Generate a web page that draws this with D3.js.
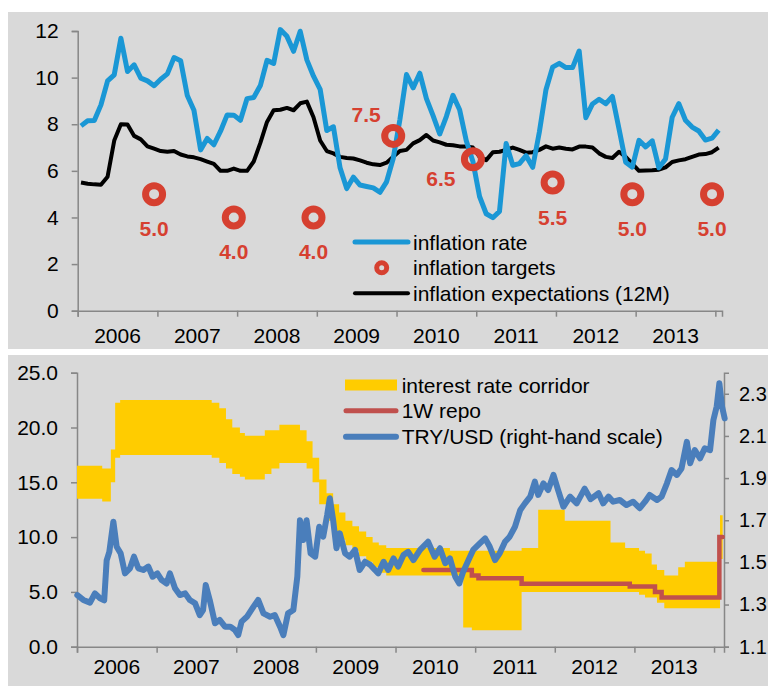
<!DOCTYPE html>
<html>
<head>
<meta charset="utf-8">
<script src="https://cdnjs.cloudflare.com/ajax/libs/d3/7.8.5/d3.min.js"></script>
<style>
body { margin: 0; background: #fff; }
svg { display: block; font-family: "Liberation Sans", Arial, sans-serif; }
</style>
</head>
<body>
<svg id="chart"></svg>
<script>
// Canvas size
const width = 768, height = 686;

// ---- data: top panel (monthly, Jan 2006 .. Jan 2014) ----
const years = ["2006", "2007", "2008", "2009", "2010", "2011", "2012", "2013"];
const inflationRate = [
    7.93, 8.15, 8.16, 8.83, 9.86, 10.12, 11.69, 10.26, 10.55, 9.98, 9.86, 9.65,
    9.93, 10.16, 10.86, 10.72, 9.23, 8.60, 6.90, 7.39, 7.12, 7.70, 8.40, 8.39,
    8.17, 9.10, 9.15, 9.66, 10.74, 10.61, 12.06, 11.77, 11.13, 11.99, 10.76, 10.06,
    9.50, 7.73, 7.89, 6.13, 5.24, 5.73, 5.39, 5.33, 5.27, 5.08, 5.53, 6.53,
    8.19, 10.13, 9.56, 10.19, 9.10, 8.37, 7.58, 8.33, 9.24, 8.62, 7.29, 6.40,
    4.90, 4.16, 3.99, 4.26, 7.17, 6.24, 6.31, 6.65, 6.15, 7.66, 9.48, 10.45,
    10.61, 10.43, 10.43, 11.14, 8.28, 8.87, 9.07, 8.88, 9.19, 7.80, 6.37, 6.16,
    7.31, 7.03, 7.29, 6.13, 6.51, 8.30, 8.88, 8.17, 7.88, 7.71, 7.32, 7.40,
    7.75
];
const inflationExpect = [
    5.50, 5.45, 5.42, 5.40, 5.75, 7.30, 8.00, 7.99, 7.50, 7.35, 7.05, 6.95,
    6.85, 6.82, 6.85, 6.70, 6.62, 6.58, 6.50, 6.40, 6.30, 6.00, 6.00, 6.10,
    6.00, 6.00, 6.40, 7.20, 8.10, 8.60, 8.62, 8.70, 8.60, 8.90, 8.97, 8.30,
    7.30, 6.85, 6.75, 6.60, 6.55, 6.53, 6.45, 6.35, 6.28, 6.25, 6.35, 6.60,
    6.85, 6.90, 7.18, 7.32, 7.54, 7.30, 7.22, 7.12, 7.10, 7.05, 7.05, 7.00,
    6.60, 6.46, 6.80, 6.82, 6.90, 7.00, 6.90, 6.78, 6.80, 6.90, 7.05, 6.95,
    7.00, 6.95, 6.92, 7.04, 7.04, 7.00, 6.75, 6.60, 6.55, 6.82, 6.60, 6.30,
    6.00, 6.02, 6.03, 6.05, 6.15, 6.38, 6.45, 6.50, 6.60, 6.70, 6.72, 6.80,
    7.00
];
// year-end inflation targets (month index of December)
const targetMonth = [11, 23, 35, 47, 59, 71, 83, 95];
const targetValue = [5.0, 4.0, 4.0, 7.5, 6.5, 5.5, 5.0, 5.0];

// ---- data: bottom panel (x in months since Jan 2006) ----
const corridorStart = [0, 3.8, 5.1, 5.75, 6.5, 20.3, 21.45, 22.45, 23.4, 24.55, 25.3, 28.3, 29.3, 30.5,
    33.6, 34.6, 35.5, 36.5, 37.6, 38.6, 39.5, 40.45, 41.5, 42.5, 43.58, 44.55, 45.48, 46.6, 56.2,
    58.2, 59.5, 67.0, 69.5, 73.5, 80.4, 82.6, 84.7, 85.6, 86.6, 87.4, 88.5, 90.6, 91.6, 96.9];
const corridorLow = [13.5, 13.25, 15.0, 17.25, 17.5, 17.25, 16.75, 16.25, 15.75, 15.5, 15.25, 15.75, 16.25, 16.75,
    16.75, 16.25, 15.0, 13.0, 11.5, 10.5, 9.75, 9.25, 8.75, 8.25, 7.75, 7.25, 6.75, 6.5, 6.5,
    1.75, 1.5, 5.0, 5.0, 5.0, 5.0, 5.0, 4.75, 4.5, 4.5, 4.0, 3.5, 3.5, 3.5, 8.0];
const corridorHigh = [16.5, 16.25, 18.0, 22.25, 22.5, 22.25, 21.75, 20.75, 20.0, 19.5, 19.25, 19.75, 19.75, 20.25,
    19.75, 18.75, 17.25, 15.25, 14.0, 13.0, 12.25, 11.5, 11.0, 10.5, 10.0, 9.5, 9.25, 9.0, 8.75,
    8.75, 8.75, 9.0, 12.5, 11.5, 9.5, 9.0, 8.75, 8.5, 7.5, 7.0, 6.5, 7.25, 7.75, 12.0];
const corridorEnd = 97.3;

const repoStart = [52.2, 59.5, 60.5, 67.0, 83.3, 87.1, 88.1, 96.8];
const repoRate = [7.0, 6.5, 6.25, 5.75, 5.5, 5.0, 4.5, 10.0];
const repoEnd = 97.3;

const fxMonth = [0.05, 0.95, 1.96, 2.7, 3.47, 4.1, 4.47, 4.87, 5.48, 5.98, 6.58, 7.23, 7.99, 8.59, 9.24,
    10.0, 10.75, 11.4, 12.1, 12.76, 13.5, 14.0, 14.77, 15.5, 16.3, 17.0, 17.8, 18.5, 19.0, 19.4,
    20.0, 20.8, 21.5, 22.3, 23.1, 23.8, 24.3, 24.8, 25.6, 26.6, 27.3, 28.1, 29.1, 29.8, 30.6,
    31.1, 31.8, 32.6, 33.2, 33.6, 34.1, 34.6, 35.2, 35.9, 36.5, 37.1, 37.7, 38.1, 38.6, 39.1,
    39.6, 40.4, 41.1, 41.9, 42.6, 43.4, 44.2, 44.9, 45.4, 46.2, 46.9, 47.7, 48.4, 49.2, 49.9,
    50.7, 51.7, 52.9, 53.9, 54.7, 55.5, 56.2, 57.0, 57.6, 58.2, 59.0, 59.7, 60.7, 61.5, 62.2,
    63.0, 63.7, 64.5, 65.2, 66.0, 66.8, 67.5, 68.3, 69.0, 69.5, 70.3, 71.0, 71.8, 72.5, 73.3,
    74.3, 75.3, 76.5, 77.4, 78.6, 79.3, 80.1, 80.8, 81.8, 82.8, 83.8, 84.8, 85.6, 86.3, 87.4,
    88.1, 88.9, 89.6, 90.4, 91.1, 91.9, 92.4, 93.1, 93.9, 94.6, 95.4, 95.9, 96.4, 96.8, 97.2, 97.6];
const fxRate = [1.345, 1.322, 1.309, 1.353, 1.33, 1.32, 1.51, 1.55, 1.693, 1.574, 1.543, 1.448, 1.472, 1.527, 1.472,
    1.464, 1.48, 1.432, 1.448, 1.416, 1.40, 1.448, 1.377, 1.345, 1.353, 1.322, 1.306, 1.25, 1.274, 1.393,
    1.322, 1.211, 1.227, 1.195, 1.195, 1.179, 1.155, 1.219, 1.242, 1.29, 1.322, 1.258, 1.242, 1.25, 1.195,
    1.155, 1.258, 1.274, 1.432, 1.70, 1.606, 1.70, 1.543, 1.527, 1.669, 1.622, 1.725, 1.804, 1.70, 1.567,
    1.638, 1.543, 1.527, 1.559, 1.464, 1.503, 1.488, 1.464, 1.448, 1.503, 1.464, 1.519, 1.48, 1.535, 1.55,
    1.511, 1.559, 1.598, 1.527, 1.567, 1.496, 1.519, 1.432, 1.40, 1.456, 1.511, 1.559, 1.59, 1.614, 1.574,
    1.511, 1.543, 1.598, 1.622, 1.669, 1.749, 1.78, 1.812, 1.883, 1.82, 1.875, 1.843, 1.915, 1.843, 1.764,
    1.812, 1.78, 1.85, 1.80, 1.828, 1.78, 1.812, 1.788, 1.796, 1.772, 1.788, 1.757, 1.788, 1.82, 1.796,
    1.812, 1.875, 1.938, 1.915, 1.946, 2.072, 1.97, 2.033, 1.994, 2.041, 2.033, 2.175, 2.24, 2.35, 2.24, 2.183];

// colours
const cBlue = "#1a97d5", cTarget = "#d64030", cYellow = "#ffcc00", cRepo = "#c0504d", cFx = "#4a7ebb";
const cAxis = "#878787", cPanel = "#d9d9d9";

const svg = d3.select("#chart").attr("width", width).attr("height", height);

// panel backgrounds
svg.append("rect").attr("x", 8).attr("y", 12).attr("width", 760).attr("height", 337).attr("fill", cPanel);
svg.append("rect").attr("x", 8).attr("y", 355).attr("width", 760).attr("height", 331).attr("fill", cPanel);

function styleAxis(g) {
    g.select(".domain").attr("stroke", cAxis).attr("stroke-width", 1.5);
    g.selectAll(".tick line").attr("stroke", cAxis).attr("stroke-width", 1.5);
    g.selectAll(".tick text").attr("fill", "#000").style("font-size", "21px");
}

// ================= top panel =================
const x1 = d3.scaleLinear().domain([0, 97]).range([77.7, 722]);
const y1 = d3.scaleLinear().domain([0, 12]).range([310.7, 31]);

svg.append("g")
    .attr("transform", "translate(77.7,0)")
    .call(d3.axisLeft(y1).tickValues(d3.range(0, 13, 2)).tickSize(6).tickPadding(13).tickFormat(d3.format("d")))
    .call(styleAxis);

svg.append("g")
    .attr("transform", "translate(0,310.7)")
    .call(d3.axisBottom(x1).tickValues(d3.range(0, 97, 12)).tickSize(6).tickFormat(""))
    .call(styleAxis);

svg.append("g").selectAll("text")
    .data(years).enter().append("text")
    .attr("x", (d, i) => x1(i * 12 + 6))
    .attr("y", 343)
    .attr("text-anchor", "middle")
    .style("font-size", "21px")
    .text(d => d);

const line1 = d3.line().x((d, i) => x1(i + 0.5)).y(d => y1(d));

svg.append("path").datum(inflationExpect)
    .attr("d", line1).attr("fill", "none")
    .attr("stroke", "#000").attr("stroke-width", 4).attr("stroke-linejoin", "round");

svg.append("path").datum(inflationRate)
    .attr("d", line1).attr("fill", "none")
    .attr("stroke", cBlue).attr("stroke-width", 5).attr("stroke-linejoin", "round");

// targets
const targets = targetMonth.map((m, i) => ({ m: m, v: targetValue[i] }));
svg.append("g").selectAll("circle")
    .data(targets).enter().append("circle")
    .attr("cx", d => x1(d.m + 0.5))
    .attr("cy", d => y1(d.v))
    .attr("r", 8.5)
    .attr("fill", "none")
    .attr("stroke", cTarget)
    .attr("stroke-width", 7);

// label placement: most below, two of them shifted so they don't sit on the lines
function labelOffset(i) {
    if (i === 3) return [-27, -14];
    if (i === 4) return [-32, 27];
    return [0, 42];
}
svg.append("g").selectAll("text")
    .data(targets).enter().append("text")
    .attr("x", (d, i) => x1(d.m + 0.5) + labelOffset(i)[0])
    .attr("y", (d, i) => y1(d.v) + labelOffset(i)[1])
    .attr("text-anchor", "middle")
    .attr("fill", cTarget)
    .style("font-size", "21px")
    .style("font-weight", "bold")
    .text(d => d3.format(".1f")(d.v));

// top legend
const leg1 = svg.append("g");
leg1.append("line").attr("x1", 355).attr("x2", 408).attr("y1", 242).attr("y2", 242)
    .attr("stroke", cBlue).attr("stroke-width", 5).attr("stroke-linecap", "round");
leg1.append("circle").attr("cx", 381.7).attr("cy", 267.7).attr("r", 5)
    .attr("fill", "none").attr("stroke", cTarget).attr("stroke-width", 5);
leg1.append("line").attr("x1", 355).attr("x2", 408).attr("y1", 293.3).attr("y2", 293.3)
    .attr("stroke", "#000").attr("stroke-width", 4).attr("stroke-linecap", "round");
["inflation rate", "inflation targets", "inflation expectations (12M)"].forEach((t, i) => {
    leg1.append("text").attr("x", 413).attr("y", 242 + i * 25.7 + 7.5)
        .style("font-size", "21px").text(t);
});

// ================= bottom panel =================
const x2 = d3.scaleLinear().domain([0, 97.5]).range([77, 724]);
const y2 = d3.scaleLinear().domain([0, 25]).range([646.7, 372.7]);
const y2r = d3.scaleLinear().domain([1.1, 2.4]).range([646.7, 372.7]);

svg.append("g")
    .attr("transform", "translate(77,0)")
    .call(d3.axisLeft(y2).tickValues(d3.range(0, 26, 5)).tickSize(6).tickPadding(13).tickFormat(d3.format(".1f")))
    .call(styleAxis);

// right axis: labels kept tight to the edge so they stay inside the page
svg.append("g")
    .attr("transform", "translate(724,0)")
    .call(d3.axisRight(y2r).tickValues([1.1, 1.3, 1.5, 1.7, 1.9, 2.1, 2.3]).tickSize(5).tickPadding(10).tickFormat(d3.format(".1f")))
    .call(styleAxis)
    .call(g => g.selectAll(".tick text").style("font-size", "20px"));

svg.append("g")
    .attr("transform", "translate(0,646.7)")
    .call(d3.axisBottom(x2).tickValues(d3.range(0, 97, 12)).tickSize(6).tickFormat(""))
    .call(styleAxis);

svg.append("g").selectAll("text")
    .data(years).enter().append("text")
    .attr("x", (d, i) => x2(i * 12 + 6))
    .attr("y", 674)
    .attr("text-anchor", "middle")
    .style("font-size", "21px")
    .text(d => d);

// interest rate corridor (step area)
const corridor = corridorStart.map((m, i) => ({ m: m, lo: corridorLow[i], hi: corridorHigh[i] }));
corridor.push({ m: corridorEnd, lo: corridorLow[corridorLow.length - 1], hi: corridorHigh[corridorHigh.length - 1] });
svg.append("path").datum(corridor)
    .attr("d", d3.area().curve(d3.curveStepAfter)
        .x(d => x2(d.m)).y0(d => y2(d.lo)).y1(d => y2(d.hi)))
    .attr("fill", cYellow);

// 1W repo (step line)
const repo = repoStart.map((m, i) => ({ m: m, v: repoRate[i] }));
repo.push({ m: repoEnd, v: repoRate[repoRate.length - 1] });
svg.append("path").datum(repo)
    .attr("d", d3.line().curve(d3.curveStepAfter).x(d => x2(d.m)).y(d => y2(d.v)))
    .attr("fill", "none").attr("stroke", cRepo).attr("stroke-width", 4.5).attr("stroke-linecap", "round");

// TRY/USD on right-hand scale
const fx = fxMonth.map((m, i) => ({ m: m, v: fxRate[i] }));
svg.append("path").datum(fx)
    .attr("d", d3.line().x(d => x2(d.m)).y(d => y2r(d.v)))
    .attr("fill", "none").attr("stroke", cFx).attr("stroke-width", 6)
    .attr("stroke-linejoin", "round").attr("stroke-linecap", "round");

// bottom legend
const leg2 = svg.append("g");
leg2.append("rect").attr("x", 345).attr("y", 379.5).attr("width", 52).attr("height", 11).attr("fill", cYellow);
leg2.append("line").attr("x1", 346).attr("x2", 396).attr("y1", 410.7).attr("y2", 410.7)
    .attr("stroke", cRepo).attr("stroke-width", 5).attr("stroke-linecap", "round");
leg2.append("line").attr("x1", 346).attr("x2", 396).attr("y1", 436.7).attr("y2", 436.7)
    .attr("stroke", cFx).attr("stroke-width", 6).attr("stroke-linecap", "round");
["interest rate corridor", "1W repo", "TRY/USD (right-hand scale)"].forEach((t, i) => {
    leg2.append("text").attr("x", 401.7).attr("y", 385 + i * 25.8 + 7.5)
        .style("font-size", "21px").text(t);
});
</script>
</body>
</html>
